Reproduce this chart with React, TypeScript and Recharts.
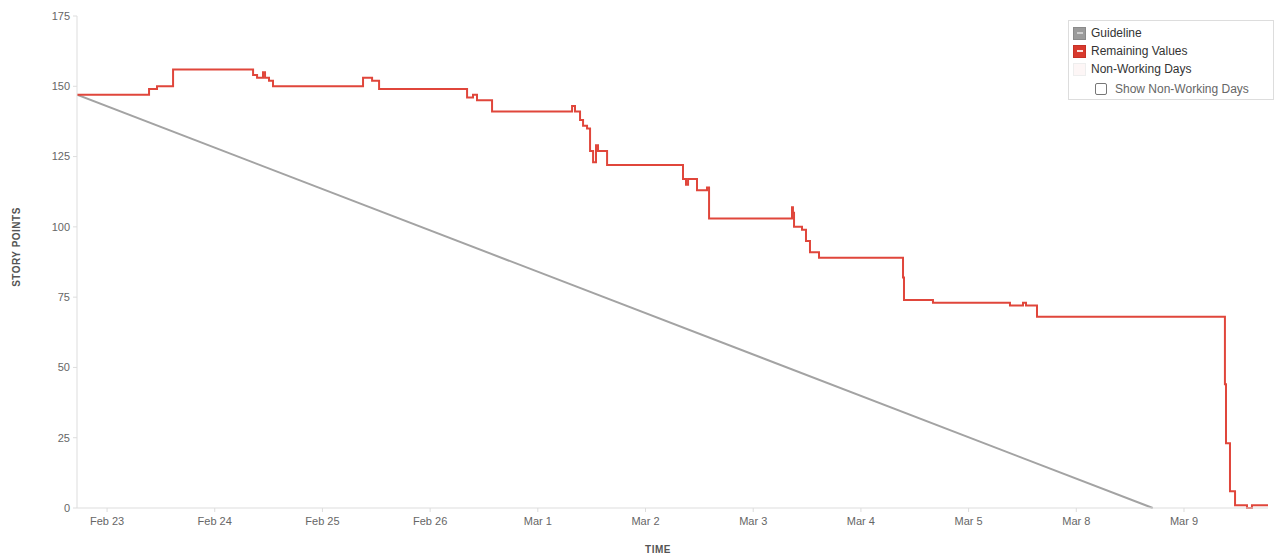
import { Line, LineChart, XAxis, YAxis } from "recharts";

// x is measured in working days from Feb 23 (weekends are skipped on the axis)
const dayLabels = ["Feb 23", "Feb 24", "Feb 25", "Feb 26", "Mar 1", "Mar 2", "Mar 3", "Mar 4", "Mar 5", "Mar 8", "Mar 9"];
const dayTicks = [0, 1, 2, 3, 4, 5, 6, 7, 8, 9, 10];
const yTicks = [0, 25, 50, 75, 100, 125, 150, 175];

const guideline = [
  { t: -0.279, v: 147 },
  { t: 9.71, v: 0 },
];

const remaining = [
  { t: -0.279, v: 147 }, { t: 0.39, v: 149 }, { t: 0.464, v: 150 }, { t: 0.613, v: 156 },
  { t: 1.356, v: 154 }, { t: 1.393, v: 153 }, { t: 1.448, v: 155 }, { t: 1.467, v: 153 },
  { t: 1.504, v: 152 }, { t: 1.541, v: 150 }, { t: 2.377, v: 153 }, { t: 2.461, v: 152 },
  { t: 2.526, v: 149 }, { t: 3.343, v: 146 }, { t: 3.398, v: 147 }, { t: 3.435, v: 145 },
  { t: 3.575, v: 141 }, { t: 4.318, v: 143 }, { t: 4.345, v: 141 }, { t: 4.392, v: 138 },
  { t: 4.42, v: 136 }, { t: 4.457, v: 135 }, { t: 4.485, v: 127 }, { t: 4.513, v: 123 },
  { t: 4.54, v: 129 }, { t: 4.559, v: 127 }, { t: 4.643, v: 122 }, { t: 5.348, v: 117 },
  { t: 5.376, v: 115 }, { t: 5.395, v: 117 }, { t: 5.478, v: 113 }, { t: 5.571, v: 114 },
  { t: 5.59, v: 103 }, { t: 6.36, v: 107 }, { t: 6.369, v: 105 }, { t: 6.379, v: 100 },
  { t: 6.453, v: 99 }, { t: 6.49, v: 95 }, { t: 6.527, v: 91 }, { t: 6.611, v: 89 },
  { t: 7.391, v: 82 }, { t: 7.4, v: 74 }, { t: 7.669, v: 73 }, { t: 8.384, v: 72 },
  { t: 8.505, v: 73 }, { t: 8.533, v: 72 }, { t: 8.635, v: 68 }, { t: 10.38, v: 44 },
  { t: 10.39, v: 23 }, { t: 10.427, v: 6 }, { t: 10.474, v: 1 }, { t: 10.585, v: 0 },
  { t: 10.631, v: 1 }, { t: 10.78, v: 1 },
];

const FONT = "'Liberation Sans', Arial, sans-serif";
const tick = { fontSize: 11, fill: "#666", fontFamily: FONT };

function Swatch({ bg, border, dash }: { bg: string; border: string; dash?: string }) {
  return (
    <span
      style={{
        display: "inline-flex",
        alignItems: "center",
        justifyContent: "center",
        width: 13,
        height: 13,
        background: bg,
        border: `1px solid ${border}`,
        boxSizing: "border-box",
        marginRight: 5,
      }}
    >
      {dash && <span style={{ width: 6, height: 2, background: dash }} />}
    </span>
  );
}

// html legend laid over the plot, like the original widget
function BurndownLegend() {
  const row = { display: "flex", alignItems: "center", height: 18 };
  return (
    <div
      style={{
        position: "absolute",
        left: 1068,
        top: 20,
        width: 206,
        height: 80,
        border: "1px solid #ddd",
        background: "#fff",
        padding: "3px 0 0 4px",
        boxSizing: "border-box",
        fontFamily: FONT,
        fontSize: 12,
        color: "#333",
      }}
    >
      <div style={row}>
        <Swatch bg="#9b9b9b" border="#8a8a8a" dash="#cfcfcf" />
        Guideline
      </div>
      <div style={row}>
        <Swatch bg="#d8392d" border="#c53126" dash="#fbe3df" />
        Remaining Values
      </div>
      <div style={row}>
        <Swatch bg="#fdf6f6" border="#eee" />
        Non-Working Days
      </div>
      <div style={{ ...row, height: 22, paddingLeft: 22, color: "#666" }}>
        <span style={{ width: 10, height: 10, border: "1px solid #777", borderRadius: 2, marginRight: 8 }} />
        Show Non-Working Days
      </div>
    </div>
  );
}

export default function App() {
  return (
    <div style={{ position: "absolute", left: 0, top: 0, width: 1282, height: 558, background: "#fff" }}>
      <LineChart width={1282} height={558} margin={{ top: 16, right: 14, bottom: 20, left: 0 }}>
        <XAxis
          type="number"
          dataKey="t"
          domain={[-0.279, 10.78]}
          ticks={dayTicks}
          tickFormatter={(i: number) => dayLabels[i]}
          allowDataOverflow
          tick={tick}
          tickSize={4}
          tickMargin={5}
          stroke="#ddd"
          height={30}
          label={() => (
            <text x={658} y={553} textAnchor="middle" fontSize={10} fontWeight="bold" fill="#555" fontFamily={FONT} letterSpacing={0.5}>
              TIME
            </text>
          )}
        />
        <XAxis xAxisId="top" orientation="top" type="number" domain={[0, 1]} tick={false} tickLine={false} stroke="#ddd" height={0} />
        <YAxis
          type="number"
          domain={[0, 175]}
          ticks={yTicks}
          width={77}
          tick={tick}
          tickSize={4}
          tickMargin={3}
          stroke="#ddd"
          label={() => (
            <text
              x={20}
              y={247}
              transform="rotate(-90 20 247)"
              textAnchor="middle"
              fontSize={10}
              fontWeight="bold"
              fill="#555"
              fontFamily={FONT}
              letterSpacing={0.5}
            >
              STORY POINTS
            </text>
          )}
        />
        <YAxis yAxisId="right" orientation="right" tick={false} tickLine={false} stroke="#ddd" width={0} />
        <Line
          data={guideline}
          dataKey="v"
          name="Guideline"
          type="linear"
          stroke="#a3a3a3"
          strokeWidth={2}
          dot={false}
          isAnimationActive={false}
        />
        <Line
          data={remaining}
          dataKey="v"
          name="Remaining Values"
          type="stepAfter"
          stroke="#e0463b"
          strokeWidth={2}
          dot={false}
          isAnimationActive={false}
        />
      </LineChart>
      <BurndownLegend />
    </div>
  );
}
